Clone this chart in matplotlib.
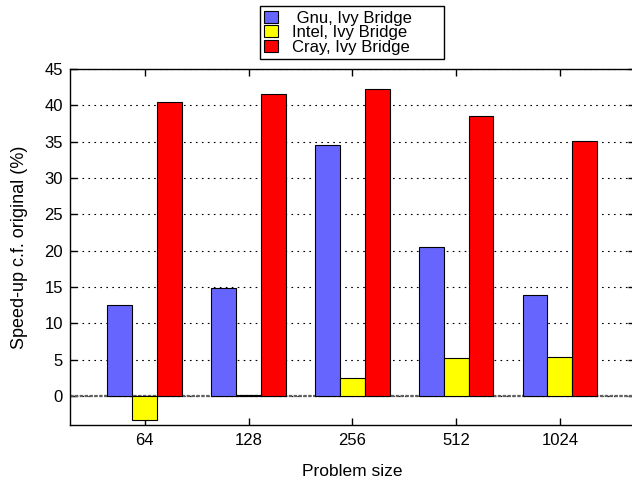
import matplotlib
matplotlib.use("Agg")
import matplotlib.pyplot as plt
import numpy as np

plt.rcParams['font.family'] = ['Liberation Sans', 'DejaVu Sans']
plt.rcParams['lines.scale_dashes'] = False

sizes = ["64", "128", "256", "512", "1024"]
series_names = [" Gnu, Ivy Bridge", "Intel, Ivy Bridge", "Cray, Ivy Bridge"]
gnu = [12.5, 14.8, 34.6, 20.5, 13.9]
intel = [-3.35, 0.18, 2.43, 5.18, 5.35]
cray = [40.5, 41.5, 42.2, 38.5, 35.1]
colors = ["#6666FF", "#FFFF00", "#FF0000"]
yticks = [0, 5, 10, 15, 20, 25, 30, 35, 40, 45]

fig = plt.figure(figsize=(6.32, 4.79), dpi=100)
W, H = 632, 479
left, right, top, bottom = 70, 634.6, 69, 425
ax = fig.add_axes([left / W, (H - bottom) / H, (right - left) / W, (bottom - top) / H])

x = np.arange(len(sizes))
width = 0.24
for i, (vals, name, c) in enumerate(zip([gnu, intel, cray], series_names, colors)):
    ax.bar(x + (i - 1) * width, vals, width, color=c, edgecolor="black",
           linewidth=0.8, label=name, zorder=3)

ax.set_xlim(-0.72, 4.72)
ax.set_ylim(-4, 45)
ax.set_xticks(x)
ax.set_xticklabels(sizes)
ax.set_yticks(yticks)

ax.axhline(0, color="#606060", linewidth=1.6, linestyle=(0, (2.5, 1)), zorder=2)
ax.yaxis.grid(True, color="black", linewidth=0.8, linestyle=(0, (1.2, 3.1)), zorder=1)
ax.set_axisbelow(True)

ax.tick_params(axis="both", direction="in", labelsize=12, length=5, width=1,
               top=True, right=True, color="black")
ax.tick_params(axis="x", pad=6)
ax.tick_params(axis="y", pad=5)
for s in ax.spines.values():
    s.set_linewidth(1)
    s.set_color("black")

ax.set_xlabel("Problem size", fontsize=12.5, labelpad=11)
ax.set_ylabel("Speed-up c.f. original (%)", fontsize=13, labelpad=12)

leg = fig.legend(loc="lower left", bbox_to_anchor=(260 / W, (H - 59) / H, 184 / W, 52 / H),
                 mode="expand", ncol=1, fontsize=12, frameon=True, fancybox=False,
                 edgecolor="black", framealpha=1, borderpad=0.25, labelspacing=-0.02,
                 handlelength=0.8, handleheight=0.75, handletextpad=0.85,
                 borderaxespad=0)
leg.get_frame().set_linewidth(1)

fig.savefig("out.png", dpi=100)
